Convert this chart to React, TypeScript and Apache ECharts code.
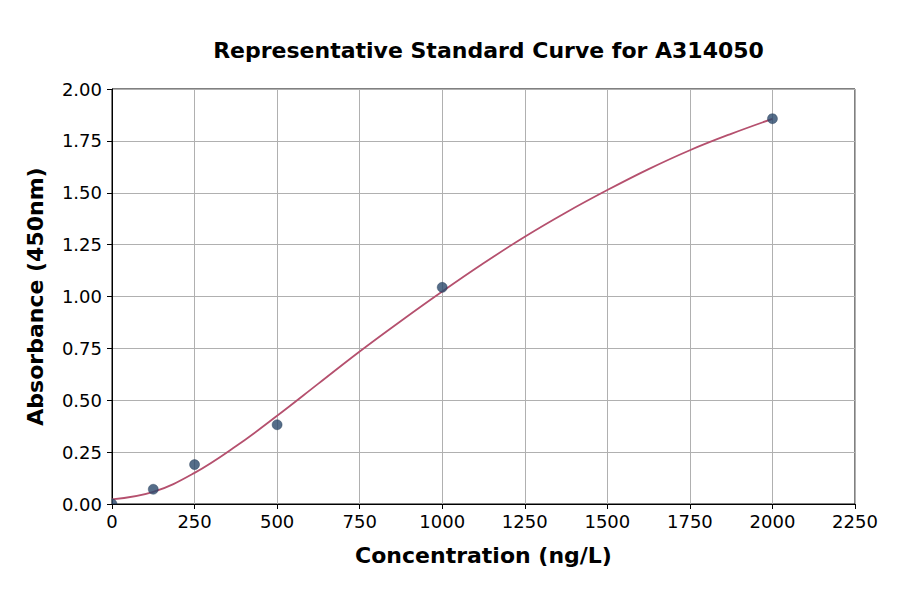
import React, { useEffect, useRef } from 'react';
import * as echarts from 'echarts';

// 标准点（浓度 ng/L, 吸光度）
const pointX = [0, 125, 250, 500, 1000, 2000];
const pointY = [0, 0.071, 0.19, 0.382, 1.044, 1.857];

// 拟合曲线（从图上读出的点）
const curveX = [0, 125, 250, 375, 500, 625, 750, 875, 1000, 1125, 1250, 1375, 1500, 1625, 1750, 1875, 2000];
const curveY = [0.022, 0.058, 0.15, 0.278, 0.425, 0.58, 0.735, 0.882, 1.024, 1.16, 1.288, 1.405, 1.513, 1.614, 1.705, 1.784, 1.856];

const FONT = 'DejaVu Sans';

// 原点处的点被坐标区裁掉，只露出右上四分之一
const QUARTER = 'path://M0 10 L0 0 A10 10 0 0 1 10 10 Z';

const App: React.FC = () => {
  const chartRef = useRef<HTMLDivElement>(null);

  useEffect(() => {
    if (!chartRef.current) return;
    const chart = echarts.init(chartRef.current, undefined, { renderer: 'svg' });

    const scatterData = pointX.map((x, i) =>
      x === 0
        ? { value: [x, pointY[i]], symbol: QUARTER, symbolSize: 5, symbolOffset: [2.5, -2.5] }
        : { value: [x, pointY[i]] }
    );

    const option: echarts.EChartsOption = {
      animation: false,
      backgroundColor: '#fff',
      title: {
        text: 'Representative Standard Curve for A314050',
        left: 483.5,
        top: 34,
        textAlign: 'center',
        textStyle: { fontFamily: FONT, fontSize: 22, fontWeight: 'bold', color: '#000' },
      },
      grid: {
        left: 112,
        right: 45,
        top: 89,
        bottom: 90,
        show: true,
        borderColor: '#000',
        borderWidth: 1,
      },
      xAxis: {
        type: 'value',
        min: 0,
        max: 2250,
        interval: 250,
        name: 'Concentration (ng/L)',
        nameLocation: 'middle',
        nameGap: 40,
        nameTextStyle: { fontFamily: FONT, fontSize: 22, fontWeight: 'bold', color: '#000' },
        axisLine: { show: true, lineStyle: { color: '#000' } },
        axisTick: { show: true, length: 5, lineStyle: { color: '#000' } },
        axisLabel: {
          fontFamily: FONT,
          fontSize: 18,
          color: '#000',
          margin: 8,
          formatter: (v: number) => String(v),
        },
        splitLine: { show: true, lineStyle: { color: '#b0b0b0', width: 1 } },
      },
      yAxis: {
        type: 'value',
        min: 0,
        max: 2,
        interval: 0.25,
        name: 'Absorbance (450nm)',
        nameLocation: 'middle',
        nameGap: 66,
        nameTextStyle: { fontFamily: FONT, fontSize: 22, fontWeight: 'bold', color: '#000' },
        axisLine: { show: true, lineStyle: { color: '#000' } },
        axisTick: { show: true, length: 5, lineStyle: { color: '#000' } },
        axisLabel: {
          fontFamily: FONT,
          fontSize: 18,
          color: '#000',
          margin: 10,
          formatter: (v: number) => v.toFixed(2),
        },
        splitLine: { show: true, lineStyle: { color: '#b0b0b0', width: 1 } },
      },
      series: [
        {
          name: 'Fit',
          type: 'line',
          smooth: 0.4,
          showSymbol: false,
          data: curveX.map((x, i) => [x, curveY[i]]),
          lineStyle: { color: '#b5506e', width: 1.8 },
          z: 2,
        },
        {
          name: 'Standards',
          type: 'scatter',
          symbolSize: 10,
          data: scatterData,
          itemStyle: { color: '#2a486c', borderColor: '#1e3550', borderWidth: 0.5 },
          z: 3,
        },
      ],
    };

    chart.setOption(option);
    return () => {
      chart.dispose();
    };
  }, []);

  return (
    <div
      ref={chartRef}
      style={{ position: 'fixed', left: 0, top: 0, width: 900, height: 594 }}
    />
  );
};

export default App;
